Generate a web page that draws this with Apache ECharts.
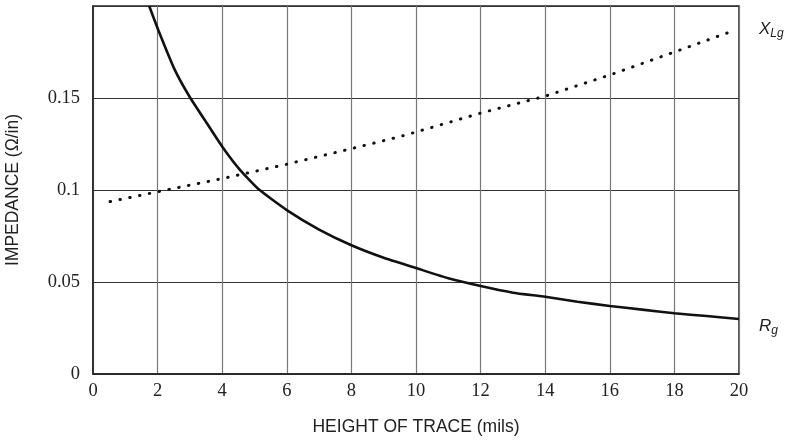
<!DOCTYPE html>
<html><head><meta charset="utf-8">
<script src="https://cdn.jsdelivr.net/npm/echarts@6/dist/echarts.min.js"></script>
<style>html,body{margin:0;padding:0;background:#fff}#c{width:789px;height:442px}</style>
</head><body><div id="c"></div>
<script>
const rgX = [1.74, 2.02, 2.54, 3.0, 3.52, 4.03, 4.55, 5.12, 6.0, 7.0, 8.0, 9.0, 10.0, 11.0, 12.0, 13.0, 14.0, 15.0, 16.0, 17.0, 18.0, 19.0, 20.0];
const rgY = [0.2, 0.187, 0.165, 0.1504, 0.1364, 0.1228, 0.1109, 0.1005, 0.0891, 0.0785, 0.070, 0.0632, 0.0576, 0.052, 0.0478, 0.0442, 0.042, 0.0393, 0.037, 0.035, 0.033, 0.0315, 0.0299];
const xlgX = [0.53, 2.02, 4.03, 5.9, 7.96, 9.5, 10.0, 12.0, 14.0, 16.0, 18.0, 19.8];
const xlgY = [0.0937, 0.0991, 0.1063, 0.1136, 0.1223, 0.129, 0.1315, 0.1418, 0.151, 0.1625, 0.175, 0.1864];
const xTicks = {min: 0, max: 20, interval: 2};
const yTicks = {min: 0, max: 0.2, interval: 0.05};

const chart = echarts.init(document.getElementById('c'));
const serif = 'Liberation Serif';
const sans = 'Liberation Sans';
chart.setOption({
  animation: false,
  grid: {left: 93, right: 50, top: 6, bottom: 68, containLabel: false, outerBoundsMode: 'none',
    show: true, borderColor: '#222', borderWidth: 1.5, backgroundColor: 'transparent'},
  xAxis: {
    type: 'value', min: xTicks.min, max: xTicks.max, interval: xTicks.interval,
    name: 'HEIGHT OF TRACE (mils)', nameLocation: 'middle', nameGap: 44,
    nameTextStyle: {fontFamily: sans, fontSize: 17.5, color: '#222'},
    axisLine: {show: true, lineStyle: {color: '#222', width: 1.5}},
    axisTick: {show: false},
    axisLabel: {fontFamily: serif, fontSize: 18.5, color: '#222', margin: 8},
    splitLine: {show: true, lineStyle: {color: '#777', width: 1.2}}
  },
  yAxis: {
    type: 'value', min: yTicks.min, max: yTicks.max, interval: yTicks.interval,
    name: 'IMPEDANCE (Ω/in)', nameLocation: 'middle', nameGap: 71,
    nameTextStyle: {fontFamily: sans, fontSize: 17.5, color: '#222'},
    axisLine: {show: true, lineStyle: {color: '#222', width: 1.5}},
    axisTick: {show: false},
    axisLabel: {fontFamily: serif, fontSize: 18.5, color: '#222', margin: 13,
      formatter: v => (Math.abs(v - 0.2) < 1e-9 ? '' : String(+v.toFixed(2)))},
    splitLine: {show: true, lineStyle: {color: '#333', width: 1}}
  },
  series: [
    {type: 'line', name: 'Rg', data: rgX.map((x, i) => [x, rgY[i]]), smooth: 0.15, showSymbol: false,
     lineStyle: {color: '#111', width: 2.6}, clip: true},
    {type: 'line', name: 'XLg', data: xlgX.map((x, i) => [x, xlgY[i]]), smooth: false, showSymbol: false,
     lineStyle: {color: '#111', width: 3, type: [0.5, 9.5], cap: 'round'}}
  ],
  graphic: [
    {type: 'text', left: 759, top: 21, style: {text: '{m|X}{s|Lg}', rich: {
      m: {fontFamily: sans, fontStyle: 'italic', fontSize: 17, fill: '#222'},
      s: {fontFamily: sans, fontStyle: 'italic', fontSize: 12, fill: '#222', padding: [9, 0, 0, 0]}}}},
    {type: 'text', left: 759, top: 318, style: {text: '{m|R}{s|g}', rich: {
      m: {fontFamily: sans, fontStyle: 'italic', fontSize: 17, fill: '#222'},
      s: {fontFamily: sans, fontStyle: 'italic', fontSize: 12, fill: '#222', padding: [9, 0, 0, 0]}}}}
  ]
});
</script></body></html>
